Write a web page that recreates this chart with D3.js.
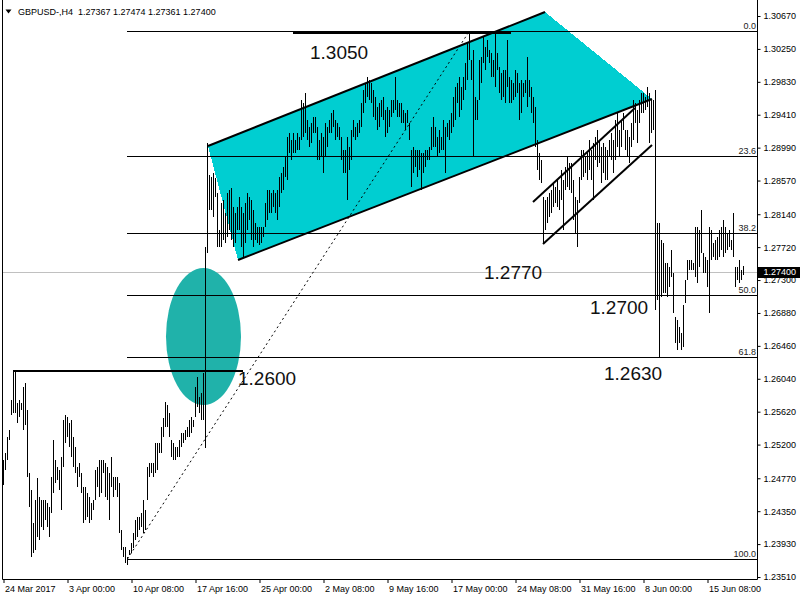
<!DOCTYPE html>
<html><head><meta charset="utf-8">
<script src="https://cdnjs.cloudflare.com/ajax/libs/d3/7.8.5/d3.min.js"></script>
<style>body{margin:0;background:#fff}svg{display:block}text{font-family:"Liberation Sans",Arial,sans-serif}</style>
</head><body><svg id="c" width="800" height="600"></svg>
<script>
// ---------- data ----------
const chartTitle = "GBPUSD-,H4  1.27367 1.27474 1.27361 1.27400";
const highs = [
1.2500,1.2509,1.2530,1.2539,1.2577,1.2615,1.2613,1.2573,1.2577,1.2573,
1.2594,1.2599,1.2564,1.2484,1.2462,1.2420,1.2449,1.2477,1.2453,1.2449,
1.2449,1.2449,1.2446,1.2440,1.2479,1.2526,1.2500,1.2491,1.2488,1.2504,
1.2551,1.2558,1.2555,1.2548,1.2551,1.2530,1.2517,1.2491,1.2497,1.2484,
1.2466,1.2466,1.2458,1.2453,1.2446,1.2449,1.2488,1.2491,1.2500,1.2500,
1.2500,1.2497,1.2491,1.2484,1.2504,1.2479,1.2479,1.2479,1.2471,1.2411,
1.2389,1.2389,1.2377,1.2386,1.2394,1.2407,1.2424,1.2428,1.2428,1.2433,
1.2449,1.2437,1.2491,1.2497,1.2497,1.2497,1.2522,1.2522,1.2522,1.2542,
1.2554,1.2574,1.2571,1.2560,1.2526,1.2522,1.2517,1.2517,1.2526,1.2535,
1.2535,1.2539,1.2542,1.2551,1.2555,1.2551,1.2594,1.2606,1.2581,1.2586,
1.2611,1.2772,1.2905,
1.2864,1.2862,1.2867,1.2860,1.2841,1.2794,1.2828,1.2832,1.2816,1.2841,
1.2845,1.2848,1.2823,1.2816,1.2823,1.2836,1.2823,1.2816,1.2828,1.2841,
1.2836,1.2832,1.2819,1.2803,1.2798,1.2798,1.2798,1.2798,1.2828,1.2845,
1.2845,1.2841,1.2845,1.2841,1.2845,1.2862,1.2867,1.2874,1.2887,1.2913,
1.2918,1.2909,1.2918,1.2909,1.2918,1.2913,1.2960,1.2956,1.2969,1.2934,
1.2925,1.2930,1.2938,1.2938,1.2925,1.2909,1.2918,1.2913,1.2930,1.2925,
1.2934,1.2943,1.2947,1.2934,1.2930,1.2925,1.2913,1.2896,1.2896,1.2913,
1.2900,1.2922,1.2934,1.2925,1.2930,1.2934,1.2956,1.2973,1.2982,1.2989,
1.2985,1.2982,1.2973,1.2964,1.2951,1.2956,1.2960,1.2964,1.2947,1.2951,
1.2947,1.2960,1.2960,1.2989,1.2960,1.2956,1.2956,1.2947,1.2943,1.2947,
1.2930,1.2896,1.2900,1.2896,1.2896,1.2896,1.2892,1.2892,1.2896,1.2896,
1.2900,1.2925,1.2938,1.2925,1.2913,1.2922,1.2913,1.2934,1.2925,1.2930,
1.2934,1.2943,1.2964,1.2976,1.2982,1.2989,1.2976,1.2989,1.3007,1.3033,
1.3045,1.3011,1.3024,1.2964,1.2960,1.3011,1.3015,1.3040,1.3027,1.3036,
1.3024,1.3020,1.3011,1.3045,1.3020,1.3002,1.2994,1.2998,1.2998,1.3036,
1.2989,1.2985,1.2982,1.2998,1.2994,1.2982,1.2985,1.2982,1.2985,1.3015,
1.2985,1.2976,1.2964,1.2951,1.2909,1.2892,1.2883,1.2836,1.2832,1.2836,
1.2841,1.2845,1.2854,1.2849,1.2858,1.2845,1.2870,1.2858,1.2874,1.2887,
1.2879,1.2879,1.2858,1.2836,1.2832,1.2862,1.2896,1.2896,1.2887,1.2892,
1.2909,1.2896,1.2905,1.2913,1.2922,1.2909,1.2900,1.2905,1.2900,1.2896,
1.2909,1.2918,1.2909,1.2934,1.2943,1.2922,1.2934,1.2943,1.2922,1.2922,
1.2913,1.2930,1.2960,1.2956,1.2947,1.2960,1.2969,1.2969,1.2964,1.2976,
1.2969,1.2960,1.2960,1.2973,1.2803,1.2803,1.2781,1.2777,1.2752,1.2752,
1.2747,1.2768,1.2739,1.2683,1.2679,1.2670,1.2662,1.2698,1.2730,1.2756,
1.2756,1.2756,1.2752,1.2798,1.2798,1.2794,1.2819,1.2765,1.2759,1.2756,
1.2798,1.2794,1.2777,1.2781,1.2785,1.2794,1.2798,1.2807,1.2798,1.2790,
1.2794,1.2781,1.2816,1.2747,1.2747,1.2756,1.2743,1.27474
];
const lows = [
1.2468,1.2488,1.2500,1.2526,1.2558,1.2560,1.2560,1.2548,1.2555,1.2564,
1.2539,1.2545,1.2479,1.2440,1.2377,1.2382,1.2386,1.2402,1.2398,1.2415,
1.2411,1.2424,1.2415,1.2402,1.2433,1.2458,1.2471,1.2475,1.2462,1.2437,
1.2491,1.2522,1.2530,1.2517,1.2504,1.2491,1.2484,1.2466,1.2479,1.2458,
1.2420,1.2424,1.2428,1.2420,1.2424,1.2437,1.2449,1.2466,1.2453,1.2458,
1.2484,1.2453,1.2449,1.2424,1.2466,1.2453,1.2462,1.2453,1.2407,1.2386,
1.2377,1.2369,1.2366,1.2379,1.2382,1.2388,1.2398,1.2402,1.2411,1.2415,
1.2407,1.2411,1.2449,1.2479,1.2484,1.2479,1.2484,1.2488,1.2509,1.2509,
1.2530,1.2542,1.2542,1.2530,1.2504,1.2500,1.2500,1.2504,1.2504,1.2517,
1.2522,1.2526,1.2530,1.2530,1.2535,1.2542,1.2555,1.2568,1.2560,1.2551,
1.2551,1.2516,1.2765,
1.2819,1.2819,1.2810,1.2836,1.2772,1.2772,1.2772,1.2781,1.2777,1.2785,
1.2794,1.2781,1.2772,1.2777,1.2794,1.2794,1.2772,1.2759,1.2777,1.2794,
1.2807,1.2781,1.2772,1.2781,1.2777,1.2775,1.2777,1.2785,1.2798,1.2807,
1.2816,1.2816,1.2823,1.2816,1.2807,1.2823,1.2841,1.2845,1.2862,1.2858,
1.2892,1.2883,1.2892,1.2892,1.2896,1.2896,1.2909,1.2913,1.2918,1.2909,
1.2900,1.2905,1.2918,1.2918,1.2883,1.2883,1.2887,1.2867,1.2887,1.2900,
1.2918,1.2918,1.2925,1.2909,1.2913,1.2909,1.2883,1.2867,1.2867,1.2832,
1.2870,1.2883,1.2913,1.2909,1.2913,1.2918,1.2925,1.2943,1.2956,1.2964,
1.2960,1.2956,1.2938,1.2934,1.2922,1.2925,1.2938,1.2934,1.2913,1.2918,
1.2925,1.2938,1.2943,1.2947,1.2938,1.2938,1.2930,1.2930,1.2922,1.2930,
1.2909,1.2849,1.2867,1.2874,1.2862,1.2870,1.2845,1.2867,1.2874,1.2883,
1.2883,1.2896,1.2900,1.2900,1.2887,1.2892,1.2896,1.2896,1.2867,1.2913,
1.2909,1.2918,1.2925,1.2934,1.2956,1.2938,1.2947,1.2960,1.2973,1.2985,
1.3011,1.2985,1.2887,1.2934,1.2934,1.2960,1.2982,1.3007,1.2998,1.3015,
1.3007,1.2989,1.2989,1.2976,1.2998,1.2969,1.2960,1.2964,1.2956,1.2976,
1.2956,1.2956,1.2960,1.2964,1.2969,1.2934,1.2943,1.2964,1.2969,1.2951,
1.2964,1.2943,1.2930,1.2900,1.2870,1.2858,1.2854,1.2777,1.2794,1.2803,
1.2810,1.2816,1.2823,1.2828,1.2823,1.2819,1.2832,1.2794,1.2845,1.2849,
1.2845,1.2841,1.2807,1.2790,1.2772,1.2828,1.2858,1.2862,1.2867,1.2858,
1.2870,1.2858,1.2832,1.2883,1.2874,1.2879,1.2854,1.2867,1.2858,1.2858,
1.2887,1.2883,1.2867,1.2883,1.2900,1.2887,1.2900,1.2922,1.2896,1.2887,
1.2879,1.2900,1.2909,1.2930,1.2905,1.2930,1.2943,1.2943,1.2947,1.2951,
1.2905,1.2918,1.2922,1.2692,1.2704,1.2632,1.2708,1.2714,1.2714,1.2708,
1.2721,1.2734,1.2688,1.2650,1.2641,1.2650,1.2641,1.2645,1.2701,1.2730,
1.2743,1.2743,1.2743,1.2734,1.2726,1.2747,1.2765,1.2739,1.2739,1.2721,
1.2688,1.2756,1.2759,1.2756,1.2756,1.2759,1.2768,1.2759,1.2765,1.2768,
1.2772,1.2768,1.2759,1.2721,1.2730,1.2726,1.2730,1.27361
];
const dateLabels = ["24 Mar 2017","3 Apr 00:00","10 Apr 08:00","17 Apr 16:00","25 Apr 00:00","2 May 08:00","9 May 16:00","17 May 00:00","24 May 08:00","31 May 16:00","8 Jun 00:00","15 Jun 08:00"];
const dateLabelBars = [0,32,64,96,128,160,192,224,256,288,320,352];
const priceTicks = [1.30670,1.30250,1.29830,1.29410,1.28990,1.28570,1.28140,1.27720,1.27300,1.26880,1.26460,1.26040,1.25620,1.25200,1.24770,1.24350,1.23930,1.23510];
const currentPrice = 1.27400;
const fibLevels = [0, 23.6, 38.2, 50, 61.8, 100];
const fibHigh = 1.30479, fibLow = 1.23741, fibStartBar = 62, fibEndBar = 233;
const channelTop = [[102.25, 1.29011], [270.75, 1.30721]];
const channelBottom = [[117.25, 1.27556], [324.25, 1.29611]];
const smallChannelUpper = [[264.75, 1.28296], [315.75, 1.29496]];
const smallChannelLower = [[269.75, 1.27760], [324.25, 1.29024]];
const levelLines = [{from: 5.25, to: 119.75, price: 1.26139}, {from: 144.75, to: 253.75, price: 1.30459}];
const ellipseBox = {barFrom: 81.25, barTo: 118.75, priceTop: 1.27454, priceBottom: 1.25705};
const labels = [
  {text: "1.3050", bar: 153.25, price: 1.3012},
  {text: "1.2600", bar: 117.25, price: 1.2596},
  {text: "1.2770", bar: 240.25, price: 1.2731},
  {text: "1.2700", bar: 293.25, price: 1.2687},
  {text: "1.2630", bar: 300.25, price: 1.2602}
];

// ---------- drawing ----------
const svg = d3.select("#c");
const L = 2.5, R = 757.5, B = 579.5;
const x = d3.scaleLinear().domain([0, 370]).range([3.5, 743.5]);
const y = d3.scaleLinear().domain([1.2351, 1.3067]).range([577, 16]);
const crisp = v => Math.round(v) + 0.5;

svg.append("clipPath").attr("id","plot").append("rect").attr("x",L).attr("y",0).attr("width",R-L).attr("height",B);
const plot = svg.append("g").attr("clip-path","url(#plot)");

// current price line
plot.append("line").attr("x1",L).attr("x2",R).attr("y1",crisp(y(currentPrice))).attr("y2",crisp(y(currentPrice)))
  .attr("stroke","#c0c0c0").attr("stroke-width",1);

// channel fill
const poly = [channelTop[0], channelTop[1], channelBottom[1], channelBottom[0]];
plot.append("polygon").attr("points", poly.map(p => [x(p[0]), y(p[1])].join(",")).join(" "))
  .attr("fill","#00CED1").attr("shape-rendering","crispEdges");

// ellipse
plot.append("ellipse")
  .attr("cx",(x(ellipseBox.barFrom)+x(ellipseBox.barTo))/2)
  .attr("cy",(y(ellipseBox.priceTop)+y(ellipseBox.priceBottom))/2)
  .attr("rx",(x(ellipseBox.barTo)-x(ellipseBox.barFrom))/2)
  .attr("ry",(y(ellipseBox.priceBottom)-y(ellipseBox.priceTop))/2)
  .attr("fill","#20B2AA");

// fibonacci
const fibG = plot.append("g");
fibLevels.forEach(lv => {
  const p = fibHigh - (fibHigh - fibLow) * lv / 100;
  const yy = crisp(y(p));
  fibG.append("line").attr("x1",x(fibStartBar)-0.5).attr("x2",R).attr("y1",yy).attr("y2",yy)
    .attr("stroke","#000").attr("stroke-width",1).attr("shape-rendering","crispEdges");
  fibG.append("text").attr("x",756).attr("y",yy-2.5).attr("text-anchor","end")
    .attr("font-size","9px").attr("fill","#222").text(lv.toFixed(1));
});
fibG.append("line").attr("x1",x(fibStartBar)).attr("y1",y(fibLow)).attr("x2",x(fibEndBar)).attr("y2",y(fibHigh))
  .attr("stroke","#000").attr("stroke-width",1).attr("stroke-dasharray","2,3");

// horizontal level lines
levelLines.forEach(l => {
  const yy = Math.round(y(l.price));
  plot.append("line").attr("x1",x(l.from)).attr("x2",x(l.to)).attr("y1",yy).attr("y2",yy)
    .attr("stroke","#000").attr("stroke-width",2).attr("shape-rendering","crispEdges");
});

// bars
plot.append("g").selectAll("rect").data(highs).join("rect")
  .attr("x",(d,i) => Math.round(x(i)-0.5))
  .attr("width",1)
  .attr("y",(d) => Math.round(y(d)))
  .attr("height",(d,i) => Math.max(1, Math.round(y(lows[i])) - Math.round(y(d))))
  .attr("fill","#000").attr("shape-rendering","crispEdges");

// channel lines
[channelTop, channelBottom, smallChannelUpper, smallChannelLower].forEach(seg => {
  plot.append("line").attr("x1",x(seg[0][0])).attr("y1",y(seg[0][1])).attr("x2",x(seg[1][0])).attr("y2",y(seg[1][1]))
    .attr("stroke","#000").attr("stroke-width",2);
});

// annotation texts
labels.forEach(t => {
  svg.append("text").attr("x",x(t.bar)).attr("y",y(t.price)).attr("font-size","19px").attr("fill","#111").text(t.text);
});

// frame
svg.append("path").attr("d",`M${L},0V${B}H${R}V0`).attr("fill","none").attr("stroke","#000").attr("stroke-width",1);

// right axis
const yAxis = d3.axisRight(y).tickValues(priceTicks).tickFormat(d3.format(".5f")).tickSize(3).tickSizeOuter(0);
const ya = svg.append("g").attr("transform",`translate(${R},0)`).call(yAxis);
ya.select(".domain").remove();
ya.selectAll("text").attr("font-size","9px").attr("fill","#000").attr("font-family",'"Liberation Sans",Arial,sans-serif');
ya.selectAll("line").attr("stroke","#000");

// current price box
const cy = y(currentPrice);
svg.append("rect").attr("x",R+0.5).attr("y",Math.round(cy)-5).attr("width",800-R).attr("height",11).attr("fill","#000");
svg.append("text").attr("x",R+6).attr("y",cy).attr("dy","0.32em").attr("font-size","9px").attr("fill","#fff").text(d3.format(".5f")(currentPrice));

// bottom axis
const xAxis = d3.axisBottom(x).tickValues(dateLabelBars).tickFormat((d,i) => dateLabels[i]).tickSize(4).tickSizeOuter(0);
const xa = svg.append("g").attr("transform",`translate(0,${B-0.5})`).call(xAxis);
xa.select(".domain").remove();
xa.selectAll("text").attr("text-anchor","start").attr("x",1).attr("font-size","9px").attr("fill","#000").attr("font-family",'"Liberation Sans",Arial,sans-serif');
xa.selectAll("line").attr("stroke","#000");

// header
svg.append("path").attr("d","M5.5,9.5 L11.5,9.5 L8.5,13.5 Z").attr("fill","#000");
svg.append("text").attr("x",18).attr("y",15).attr("font-size","9px").attr("fill","#000").style("white-space","pre").text(chartTitle);
</script>
</body></html>
